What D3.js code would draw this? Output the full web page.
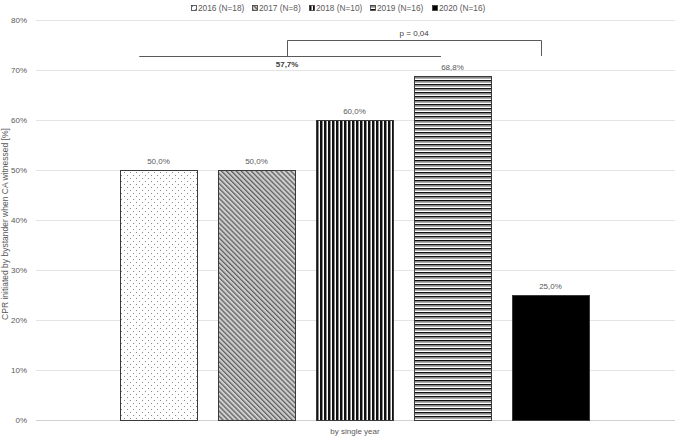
<!DOCTYPE html>
<html><head><meta charset="utf-8">
<script src="https://cdn.jsdelivr.net/npm/d3@7"></script>
<style>body{margin:0;background:#fff}svg{display:block}text{font-family:"Liberation Sans",Arial,sans-serif}</style>
</head><body>
<svg id="c" width="685" height="437"></svg>
<script>
const years = ["2016","2017","2018","2019","2020"];
const legendLabels = ["2016 (N=18)","2017 (N=8)","2018 (N=10)","2019 (N=16)","2020 (N=16)"];
const values = [50.0, 50.0, 60.0, 68.8, 25.0];
const valueLabels = ["50,0%","50,0%","60,0%","68,8%","25,0%"];
const yTicks = [0,10,20,30,40,50,60,70,80];
const categoryLabel = "by single year";
const yTitle = "CPR initiated by bystander when CA witnessed [%]";
const meanLabel = "57,7%";
const pLabel = "p = 0,04";

const svg = d3.select("#c");
const plotL = 36, plotR = 675, plotT = 20, plotB = 420;
const y = d3.scaleLinear().domain([0,80]).range([plotB, plotT]);
const x = d3.scaleBand().domain(years).range([109.5, 599.5]).paddingInner(0.2143).paddingOuter(0.107);
const bw = x.bandwidth();

const defs = svg.append("defs");
// 2016 dots
let p = defs.append("pattern").attr("id","p2016").attr("patternUnits","userSpaceOnUse").attr("width",6).attr("height",6);
p.append("rect").attr("width",6).attr("height",6).attr("fill","#fff");
p.append("rect").attr("x",1).attr("y",1).attr("width",1).attr("height",1).attr("fill","#8a8a8a");
p.append("rect").attr("x",4).attr("y",4).attr("width",1).attr("height",1).attr("fill","#8a8a8a");
// 2017 diagonal
p = defs.append("pattern").attr("id","p2017").attr("patternUnits","userSpaceOnUse").attr("width",3.5).attr("height",3.5).attr("patternTransform","rotate(-45)");
p.append("rect").attr("width",3.5).attr("height",3.5).attr("fill","#cfcfcf");
p.append("rect").attr("width",1.3).attr("height",3.5).attr("fill","#5e5e5e");
// 2018 vertical
p = defs.append("pattern").attr("id","p2018").attr("patternUnits","userSpaceOnUse").attr("width",4).attr("height",4);
p.append("rect").attr("width",4).attr("height",4).attr("fill","#fff");
p.append("rect").attr("x",0).attr("width",2).attr("height",4).attr("fill","#111");
p.append("rect").attr("x",2).attr("width",1).attr("height",4).attr("fill","#8c8c8c");
// 2019 horizontal
p = defs.append("pattern").attr("id","p2019").attr("patternUnits","userSpaceOnUse").attr("width",4).attr("height",4);
p.append("rect").attr("width",4).attr("height",4).attr("fill","#fff");
p.append("rect").attr("y",0).attr("width",4).attr("height",1.5).attr("fill","#111");
p.append("rect").attr("y",1.5).attr("width",4).attr("height",1.2).attr("fill","#8c8c8c");
const fills = {"2016":"url(#p2016)","2017":"url(#p2017)","2018":"url(#p2018)","2019":"url(#p2019)","2020":"#000"};

// gridlines
svg.append("g").selectAll("line").data(yTicks).join("line")
  .attr("x1",plotL).attr("x2",plotR).attr("y1",d=>Math.round(y(d))+0.5).attr("y2",d=>Math.round(y(d))+0.5)
  .attr("stroke",d=>d===0?"#d0d0d0":"#e4e4e4").attr("stroke-width",1);
svg.append("g").selectAll("text").data(yTicks).join("text")
  .attr("x",27).attr("y",d=>y(d)+3).attr("text-anchor","end").attr("font-size",8).attr("fill","#595959")
  .text(d=>d+"%");

// bars
const data = years.map((yr,i)=>({yr, v:values[i], lab:valueLabels[i]}));
svg.append("g").selectAll("rect").data(data).join("rect")
  .attr("x",d=>Math.round(x(d.yr))+0.5).attr("y",d=>Math.round(y(d.v))+0.5)
  .attr("width",Math.round(bw)).attr("height",d=>Math.round(plotB-y(d.v)))
  .attr("fill",d=>fills[d.yr]).attr("stroke","#3a3a3a").attr("stroke-width",1);
svg.append("g").selectAll("text").data(data).join("text")
  .attr("x",d=>x(d.yr)+bw/2).attr("y",d=>y(d.v)-6).attr("text-anchor","middle")
  .attr("font-size",8).attr("fill","#595959").text(d=>d.lab);

// axis titles
svg.append("text").attr("x",355).attr("y",434).attr("text-anchor","middle").attr("font-size",8).attr("fill","#595959").text(categoryLabel);
svg.append("text").attr("transform","translate(8,224) rotate(-90)").attr("text-anchor","middle").attr("font-size",8.5).attr("fill","#595959").text(yTitle);

// annotations
const lowX1 = x("2016")+bw*0.25, lowX2 = x("2019")+bw*0.35, lowY = y(72.8);
const upX1 = (lowX1+lowX2)/2 - 3, upX2 = x("2020")+bw*0.38, upY = y(76);
const ann = svg.append("g").attr("stroke","#595959").attr("stroke-width",1).attr("fill","none");
ann.append("line").attr("x1",lowX1).attr("x2",lowX2).attr("y1",Math.round(lowY)+0.5).attr("y2",Math.round(lowY)+0.5);
ann.append("path").attr("d",`M${Math.round(upX1)+0.5},${Math.round(lowY)}V${Math.round(upY)+0.5}H${Math.round(upX2)+0.5}V${Math.round(lowY)}`);
svg.append("text").attr("x",upX1).attr("y",67).attr("text-anchor","middle").attr("font-size",8).attr("font-weight","bold").attr("fill","#404040").text(meanLabel);
svg.append("text").attr("x",(upX1+upX2)/2).attr("y",36).attr("text-anchor","middle").attr("font-size",8).attr("fill","#404040").text(pLabel);

// legend
const legX = [191,252,309,370,432];
const lg = svg.append("g").selectAll("g").data(years).join("g").attr("transform",(d,i)=>`translate(${legX[i]},5)`);
lg.append("rect").attr("x",0.5).attr("y",0.5).attr("width",5).attr("height",5).attr("fill",d=>fills[d]).attr("stroke","#3a3a3a").attr("stroke-width",0.8);
lg.append("text").attr("x",7).attr("y",6).attr("font-size",8.3).attr("fill","#595959").text((d,i)=>legendLabels[i]);
</script>
</body></html>
